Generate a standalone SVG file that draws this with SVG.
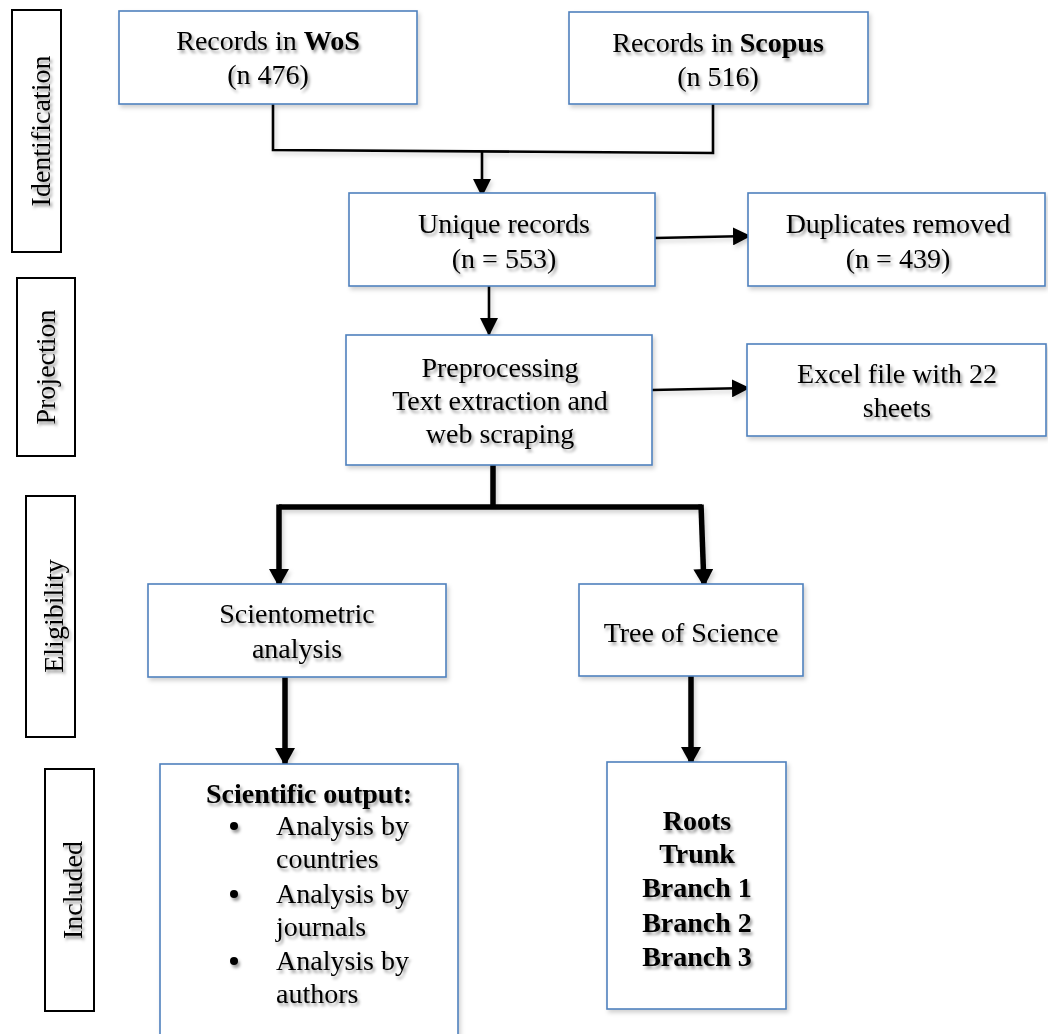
<svg xmlns="http://www.w3.org/2000/svg" width="1048" height="1034" viewBox="0 0 1048 1034">
  <style>
    text { font-family: "Liberation Serif", "Times New Roman", serif; font-size: 28px; fill: #000; }
    .lbl { text-anchor: middle; filter: url(#tshadow); }
    .rot { text-anchor: middle; }
    .b { font-weight: bold; }
    .box { fill: #fff; stroke: #4f81bd; stroke-width: 1.6; filter: url(#bshadow); }
    .side { fill: #fff; stroke: #000; stroke-width: 2; }
    .thin { fill: none; stroke: #000; stroke-width: 2.6; }
    .thick { fill: none; stroke: #000; stroke-width: 5.5; }
    #connectors { filter: url(#bshadow); }
  </style>
  <defs>
    <filter id="tshadow" filterUnits="userSpaceOnUse" x="0" y="0" width="1048" height="1034">
      <feDropShadow dx="2" dy="3" stdDeviation="1.5" flood-color="#000" flood-opacity="0.38"/>
    </filter>
    <filter id="bshadow" filterUnits="userSpaceOnUse" x="0" y="0" width="1048" height="1034">
      <feDropShadow dx="2" dy="3" stdDeviation="2" flood-color="#000" flood-opacity="0.18"/>
    </filter>
    <marker id="ah" markerUnits="userSpaceOnUse" markerWidth="18" markerHeight="18" viewBox="0 0 18 18" refX="17" refY="9" orient="auto">
      <path d="M0,0 L18,9 L0,18 Z" fill="#000"/>
    </marker>
    <marker id="ahk" markerUnits="userSpaceOnUse" markerWidth="18" markerHeight="20" viewBox="0 0 18 20" refX="17" refY="10" orient="auto">
      <path d="M0,0 L18,10 L0,20 Z" fill="#000"/>
    </marker>
  </defs>

  <!-- phase labels -->
  <g id="phase-identification">
    <rect class="side" x="12" y="10" width="49" height="242"/>
    <g filter="url(#tshadow)"><text class="rot" transform="translate(50,131) rotate(-90)">Identification</text></g>
  </g>
  <g id="phase-projection">
    <rect class="side" x="17" y="278" width="58" height="178"/>
    <g filter="url(#tshadow)"><text class="rot" transform="translate(55,367) rotate(-90)">Projection</text></g>
  </g>
  <g id="phase-eligibility">
    <rect class="side" x="26" y="496" width="49" height="241"/>
    <g filter="url(#tshadow)"><text class="rot" transform="translate(63,616) rotate(-90)">Eligibility</text></g>
  </g>
  <g id="phase-included">
    <rect class="side" x="45" y="769" width="49" height="242"/>
    <g filter="url(#tshadow)"><text class="rot" transform="translate(82,890) rotate(-90)">Included</text></g>
  </g>

  <!-- connectors -->
  <g id="connectors">
    <path class="thin" d="M273,104 V150 L713,153 V104"/>
    <path class="thin" d="M482,151 V196" marker-end="url(#ah)"/>
    <path class="thin" d="M655,238 L750,236" marker-end="url(#ah)"/>
    <path class="thin" d="M489,286 V335" marker-end="url(#ah)"/>
    <path class="thin" d="M652,390 L749,388" marker-end="url(#ah)"/>
    <path class="thick" d="M493,465 V507"/>
    <path class="thick" d="M279,507 H702"/>
    <path class="thick" d="M279,504.5 V586" marker-end="url(#ahk)"/>
    <path class="thick" d="M701,504.5 L704,586" marker-end="url(#ahk)"/>
    <path class="thick" d="M285,677 V765" marker-end="url(#ahk)"/>
    <path class="thick" d="M691,676 V764" marker-end="url(#ahk)"/>
  </g>

  <!-- nodes -->
  <g id="wos">
    <rect class="box" x="119" y="11" width="298" height="93"/>
    <text class="lbl" x="268" y="50">Records in <tspan class="b">WoS</tspan></text>
    <text class="lbl" x="268" y="84">(n 476)</text>
  </g>
  <g id="scopus">
    <rect class="box" x="569" y="12" width="299" height="92"/>
    <text class="lbl" x="718" y="52">Records in <tspan class="b">Scopus</tspan></text>
    <text class="lbl" x="718" y="86">(n 516)</text>
  </g>
  <g id="unique">
    <rect class="box" x="349" y="193" width="306" height="93"/>
    <text class="lbl" x="504" y="233">Unique records</text>
    <text class="lbl" x="504" y="268">(n = 553)</text>
  </g>
  <g id="duplicates">
    <rect class="box" x="748" y="193" width="297" height="93"/>
    <text class="lbl" x="898" y="233">Duplicates removed</text>
    <text class="lbl" x="898" y="268">(n = 439)</text>
  </g>
  <g id="preprocessing">
    <rect class="box" x="346" y="335" width="306" height="130"/>
    <text class="lbl" x="500" y="377">Preprocessing</text>
    <text class="lbl" x="500" y="410">Text extraction and</text>
    <text class="lbl" x="500" y="443">web scraping</text>
  </g>
  <g id="excel">
    <rect class="box" x="747" y="344" width="299" height="92"/>
    <text class="lbl" x="897" y="383">Excel file with 22</text>
    <text class="lbl" x="897" y="417">sheets</text>
  </g>
  <g id="scientometric">
    <rect class="box" x="148" y="584" width="298" height="93"/>
    <text class="lbl" x="297" y="623">Scientometric</text>
    <text class="lbl" x="297" y="658">analysis</text>
  </g>
  <g id="tos">
    <rect class="box" x="579" y="584" width="224" height="92"/>
    <text class="lbl" x="691" y="642">Tree of Science</text>
  </g>
  <g id="scientific-output">
    <rect class="box" x="160" y="764" width="298" height="280"/>
    <text class="lbl b" x="309" y="803">Scientific output:</text>
    <g filter="url(#tshadow)">
      <circle cx="234" cy="826" r="4"/>
      <circle cx="234" cy="894" r="4"/>
      <circle cx="234" cy="961" r="4"/>
    </g>
    <g class="lbl" style="text-anchor:start">
      <text x="276" y="835">Analysis by</text>
      <text x="276" y="868">countries</text>
      <text x="276" y="903">Analysis by</text>
      <text x="276" y="936">journals</text>
      <text x="276" y="970">Analysis by</text>
      <text x="276" y="1003">authors</text>
    </g>
  </g>
  <g id="tos-parts">
    <rect class="box" x="607" y="762" width="179" height="247"/>
    <text class="lbl b" x="697" y="830">Roots</text>
    <text class="lbl b" x="697" y="863">Trunk</text>
    <text class="lbl b" x="697" y="897">Branch 1</text>
    <text class="lbl b" x="697" y="932">Branch 2</text>
    <text class="lbl b" x="697" y="966">Branch 3</text>
  </g>
</svg>
